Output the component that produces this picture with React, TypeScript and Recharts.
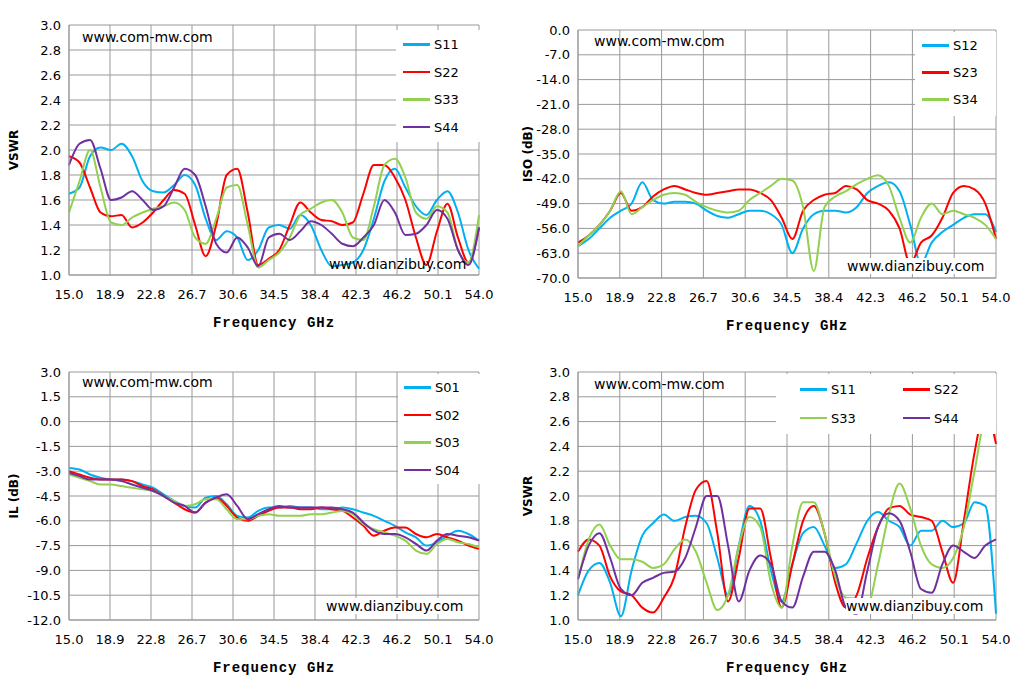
import React from "react";
import { LineChart, Line, XAxis, YAxis, CartesianGrid } from "recharts";

const freq = Array.from({ length: 40 }, (_, i) => 15 + i);
const xTicks = [15, 18.9, 22.8, 26.7, 30.6, 34.5, 38.4, 42.3, 46.2, 50.1, 54];
const vswrTicks = [1, 1.2, 1.4, 1.6, 1.8, 2, 2.2, 2.4, 2.6, 2.8, 3];
const isoTicks = [0, -7, -14, -21, -28, -35, -42, -49, -56, -63, -70];
const ilTicks = [3, 1.5, 0, -1.5, -3, -4.5, -6, -7.5, -9, -10.5, -12];

const c1S11 = [1.65,1.7,1.95,2.02,2.0,2.05,1.95,1.75,1.67,1.66,1.72,1.8,1.72,1.45,1.28,1.35,1.3,1.12,1.2,1.38,1.4,1.37,1.48,1.4,1.2,1.07,1.08,1.1,1.2,1.45,1.75,1.85,1.7,1.55,1.48,1.6,1.67,1.5,1.2,1.05];
const c1S22 = [1.95,1.9,1.7,1.5,1.47,1.48,1.38,1.42,1.5,1.6,1.68,1.65,1.4,1.15,1.4,1.8,1.85,1.5,1.08,1.13,1.2,1.4,1.58,1.5,1.44,1.43,1.4,1.42,1.65,1.88,1.88,1.78,1.6,1.3,1.08,1.35,1.57,1.3,1.1,1.38];
const c1S33 = [1.5,1.75,2.0,1.7,1.42,1.4,1.46,1.5,1.53,1.55,1.58,1.52,1.3,1.25,1.45,1.7,1.72,1.4,1.06,1.12,1.18,1.3,1.48,1.53,1.58,1.6,1.5,1.3,1.28,1.55,1.88,1.93,1.78,1.5,1.45,1.55,1.5,1.2,1.1,1.48];
const c1S44 = [1.88,2.05,2.08,1.85,1.6,1.62,1.67,1.6,1.52,1.55,1.7,1.85,1.8,1.55,1.25,1.18,1.3,1.22,1.07,1.3,1.33,1.28,1.35,1.43,1.4,1.33,1.25,1.23,1.3,1.4,1.6,1.5,1.32,1.33,1.4,1.52,1.45,1.2,1.08,1.38];

const c2S12 = [-61,-59,-56,-53,-51,-49,-43,-48,-49,-48.5,-48.5,-49,-51,-52.5,-53,-52,-51,-51,-52,-55,-63,-56,-52,-51,-51,-51.5,-50,-46,-44,-43,-45.5,-55,-66,-60,-57,-55,-53,-52,-52,-57];
const c2S23 = [-60,-58,-55,-51,-46,-51,-50,-47,-45,-44,-45,-46,-46.5,-46,-45.5,-45,-45,-46,-48,-53,-59,-51,-48,-46.5,-46,-44,-45,-48,-49,-51,-56,-66,-60,-58,-53,-46,-44,-45,-49,-59];
const c2S34 = [-61,-58,-55,-51,-45.5,-52,-50,-48,-46.5,-46,-46.5,-48.5,-50,-51,-51.5,-51,-48,-46,-44,-42,-42.5,-50,-68,-50,-47,-45.5,-43.5,-42,-41,-44,-53,-60,-53,-49,-52,-51,-52,-53,-55,-59];

const c3S01 = [-2.8,-2.9,-3.2,-3.4,-3.5,-3.5,-3.6,-3.8,-4.0,-4.4,-4.8,-5.1,-5.2,-4.6,-4.5,-5.0,-5.7,-5.8,-5.4,-5.2,-5.2,-5.1,-5.2,-5.2,-5.3,-5.3,-5.2,-5.3,-5.5,-5.7,-6.0,-6.3,-6.7,-7.0,-7.5,-7.3,-6.9,-6.6,-6.8,-7.2];
const c3S02 = [-3.0,-3.2,-3.4,-3.5,-3.5,-3.5,-3.6,-3.9,-4.1,-4.5,-4.9,-5.3,-5.5,-4.9,-4.6,-5.1,-5.8,-6.0,-5.7,-5.4,-5.2,-5.2,-5.3,-5.3,-5.2,-5.3,-5.4,-5.8,-6.3,-6.9,-6.6,-6.4,-6.4,-6.8,-7.0,-6.8,-7.0,-7.2,-7.5,-7.7];
const c3S03 = [-3.2,-3.4,-3.6,-3.8,-3.8,-3.9,-4.0,-4.1,-4.2,-4.5,-4.8,-5.1,-5.0,-4.7,-4.7,-5.3,-5.9,-5.9,-5.7,-5.6,-5.7,-5.7,-5.7,-5.6,-5.6,-5.5,-5.4,-5.6,-6.2,-6.5,-6.7,-6.9,-7.2,-7.8,-8.0,-7.4,-7.1,-7.3,-7.4,-7.6];
const c3S04 = [-3.1,-3.3,-3.5,-3.5,-3.5,-3.6,-3.8,-4.0,-4.2,-4.5,-4.9,-5.1,-5.5,-4.9,-4.6,-4.4,-5.1,-5.9,-5.6,-5.3,-5.1,-5.2,-5.2,-5.2,-5.2,-5.2,-5.3,-5.5,-6.1,-6.6,-6.8,-6.8,-7.0,-7.4,-7.8,-7.2,-6.8,-6.9,-7.0,-7.2];

const c4S11 = [1.2,1.4,1.46,1.3,1.03,1.4,1.68,1.78,1.85,1.8,1.83,1.84,1.78,1.5,1.2,1.6,1.92,1.8,1.4,1.15,1.45,1.7,1.75,1.6,1.42,1.45,1.62,1.8,1.87,1.8,1.75,1.6,1.72,1.72,1.8,1.75,1.78,1.95,1.92,1.05];
const c4S22 = [1.55,1.65,1.6,1.35,1.23,1.2,1.1,1.06,1.18,1.35,1.75,2.05,2.12,1.7,1.15,1.5,1.9,1.9,1.5,1.1,1.45,1.8,1.92,1.7,1.3,1.1,1.2,1.5,1.75,1.9,1.92,1.85,1.83,1.8,1.55,1.3,1.8,2.35,2.7,2.42];
const c4S33 = [1.32,1.65,1.77,1.6,1.49,1.49,1.47,1.42,1.45,1.57,1.65,1.55,1.3,1.08,1.2,1.6,1.83,1.75,1.3,1.1,1.6,1.95,1.95,1.7,1.35,1.18,1.17,1.12,1.45,1.85,2.1,1.9,1.6,1.45,1.42,1.5,1.75,2.2,2.6,2.55];
const c4S44 = [1.33,1.6,1.7,1.5,1.25,1.2,1.3,1.34,1.38,1.39,1.5,1.75,2.0,2.0,1.6,1.15,1.4,1.52,1.45,1.15,1.1,1.35,1.55,1.55,1.4,1.1,1.05,1.4,1.75,1.86,1.8,1.55,1.25,1.22,1.45,1.6,1.55,1.5,1.6,1.65];

const BLUE = "#00b0f0", RED = "#ff0000", GREEN = "#92d050", PURPLE = "#7030a0";
const FONT = "'DejaVu Sans', Verdana, sans-serif";

function build(series: number[][]) {
  return freq.map((f, i) => {
    const row: any = { f };
    series.forEach((s, k) => (row["s" + k] = s[i]));
    return row;
  });
}

type Panel = {
  x: number; y: number; ml: number; mt: number; mb: number; mr: number; lo: number;
  series: number[][]; colors: string[]; names: string[];
  yTicks: number[]; domain: [number, number]; ylabel: string; fmt: (v: number) => string;
};

const panels: Panel[] = [
  { x: 0, y: 0, ml: 24, mt: 25, mb: 70, mr: 35, lo: -10, series: [c1S11, c1S22, c1S33, c1S44], colors: [BLUE, RED, GREEN, PURPLE], names: ["S11", "S22", "S33", "S44"], yTicks: vswrTicks, domain: [1, 3], ylabel: "VSWR", fmt: (v) => v.toFixed(1) },
  { x: 514, y: 0, ml: 19, mt: 30, mb: 67, mr: 32, lo: -5, series: [c2S12, c2S23, c2S34], colors: [BLUE, RED, GREEN], names: ["S12", "S23", "S34"], yTicks: isoTicks, domain: [-70, 0], ylabel: "ISO (dB)", fmt: (v) => v.toFixed(1) },
  { x: 0, y: 345, ml: 24, mt: 27, mb: 70, mr: 35, lo: -10, series: [c3S01, c3S02, c3S03, c3S04], colors: [BLUE, RED, GREEN, PURPLE], names: ["S01", "S02", "S03", "S04"], yTicks: ilTicks, domain: [-12, 3], ylabel: "IL (dB)", fmt: (v) => v.toFixed(1) },
  { x: 514, y: 345, ml: 19, mt: 27, mb: 70, mr: 32, lo: -5, series: [c4S11, c4S22, c4S33, c4S44], colors: [BLUE, RED, GREEN, PURPLE], names: ["S11", "S22", "S33", "S44"], yTicks: vswrTicks, domain: [1, 3], ylabel: "VSWR", fmt: (v) => v.toFixed(1) },
];

const tick = { fill: "#000", fontSize: 13, fontFamily: FONT };

function PanelChart({ p }: { p: Panel }) {
  const data = build(p.series);
  return (
    <div style={{ position: "absolute", left: p.x, top: p.y }}>
      <LineChart width={514} height={345} data={data} margin={{ top: p.mt, left: p.ml, right: p.mr, bottom: p.mb - 30 }}>
        <CartesianGrid stroke="#999" strokeWidth={1} />
        <XAxis dataKey="f" type="number" domain={[15, 54]} ticks={xTicks} tickFormatter={(v) => v.toFixed(1)}
          tick={{ ...tick, dy: 7 }} stroke="#999" tickLine={false} height={30} interval={0}
          label={{ value: "Frequency GHz", position: "insideBottom", offset: -22, style: { fontFamily: "'Liberation Mono', monospace", fontWeight: "bold", fontSize: 14, fill: "#000", letterSpacing: 1 } }} />
        <YAxis type="number" domain={p.domain} ticks={p.yTicks} tickFormatter={p.fmt} tick={tick} stroke="#999"
          tickLine={false} width={45} interval={0} allowDataOverflow
          label={{ value: p.ylabel, angle: -90, position: "insideLeft", offset: p.lo, style: { fontFamily: FONT, fontWeight: "bold", fontSize: 12, fill: "#000", textAnchor: "middle" } }} />
        {p.series.map((_, k) => (
          <Line key={k} dataKey={"s" + k} type="monotone" stroke={p.colors[k]} strokeWidth={2} dot={false} isAnimationActive={false} />
        ))}
      </LineChart>
    </div>
  );
}

function LegendItem({ x, y, color, name }: { x: number; y: number; color: string; name: string }) {
  return (
    <div style={{ position: "absolute", left: x, top: y, display: "flex", alignItems: "center", fontFamily: FONT, fontSize: 13 }}>
      <div style={{ width: 27, height: 2.5, background: color, marginRight: 4 }} />
      <span>{name}</span>
    </div>
  );
}

function Text({ x, y, t, bg }: { x: number; y: number; t: string; bg?: boolean }) {
  return <div style={{ position: "absolute", left: x, top: y, fontFamily: FONT, fontSize: 14, background: bg ? "#fff" : "transparent", whiteSpace: "nowrap" }}>{t}</div>;
}

export default function App() {
  return (
    <div style={{ position: "relative", width: 1028, height: 690, margin: -8, background: "#fff", overflow: "hidden" }}>
      {panels.map((p, i) => <PanelChart key={i} p={p} />)}
      <div style={{ position: "absolute", left: 396, top: 30, width: 84, height: 112, background: "#fff" }} />
      {panels[0].names.map((n, k) => <LegendItem key={n} x={403} y={37 + k * 27.5} color={panels[0].colors[k]} name={n} />)}
      <div style={{ position: "absolute", left: 915, top: 32, width: 81, height: 84, background: "#fff" }} />
      {panels[1].names.map((n, k) => <LegendItem key={n} x={922} y={38 + k * 27} color={panels[1].colors[k]} name={n} />)}
      <div style={{ position: "absolute", left: 398, top: 374, width: 82, height: 110, background: "#fff" }} />
      {panels[2].names.map((n, k) => <LegendItem key={n} x={404} y={380 + k * 27.5} color={panels[2].colors[k]} name={n} />)}
      <div style={{ position: "absolute", left: 776, top: 374, width: 220, height: 60, background: "#fff" }} />
      {panels[3].names.map((n, k) => <LegendItem key={n} x={800 + (k % 2) * 103} y={382 + Math.floor(k / 2) * 28.5} color={panels[3].colors[k]} name={n} />)}
      <Text x={82} y={29} t="www.com-mw.com" />
      <Text x={329} y={256} t="www.dianzibuy.com" />
      <Text x={594} y={33} t="www.com-mw.com" />
      <Text x={847} y={258} t="www.dianzibuy.com" bg />
      <Text x={82} y={374} t="www.com-mw.com" />
      <Text x={326} y={598} t="www.dianzibuy.com" bg />
      <Text x={594} y={376} t="www.com-mw.com" />
      <Text x={846} y={598} t="www.dianzibuy.com" bg />
    </div>
  );
}
